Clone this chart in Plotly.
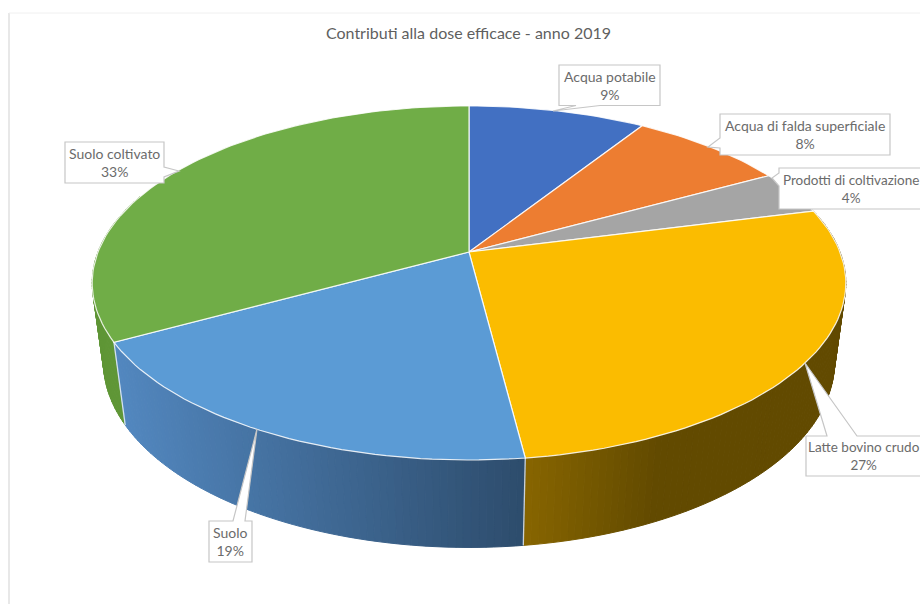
import math
import plotly.graph_objects as go

# Slices of the pie, clockwise from twelve o'clock
categories = ["Acqua potabile", "Acqua di falda superficiale", "Prodotti di coltivazione",
              "Latte bovino crudo", "Suolo", "Suolo coltivato"]
shares = [9, 8, 4, 27, 19, 33]
title_text = "Contributi alla dose efficace - anno 2019"

top_colors = ["#4270C2", "#ED7D31", "#A5A5A5", "#FBBC00", "#5B9BD5", "#70AD47"]
# Rim shading: colour at the left and right end of a horizontal ramp
wall_ramps = [
    (0, "#2F4F7F", 1, "#2F4F7F"),
    (0, "#A05020", 1, "#A05020"),
    (0, "#707070", 1, "#707070"),
    (525, "#876500", 655, "#624A00"),
    (122, "#5287BF", 525, "#2D4C6C"),
    (90, "#5F9636", 120, "#5F9636"),
]

# Perspective camera for the disc
CX, CY = 469.0, 252.0
A, B = 371.0, 171.6
K = 0.175
DEPTH_W, DEPTH_H = 0.03, 81.0


def project(theta_deg, radius=1.0, lower=False):
    t = math.radians(theta_deg)
    u, v = radius * math.sin(t), radius * math.cos(t)
    w = 1 + K * v + (DEPTH_W if lower else 0.0)
    h = DEPTH_H if lower else 0.0
    return CX + A * u / w, CY + (-B * v + h) / w


def mix(c0, c1, f):
    f = max(0.0, min(1.0, f))
    a = [int(c0[i:i + 2], 16) for i in (1, 3, 5)]
    b = [int(c1[i:i + 2], 16) for i in (1, 3, 5)]
    return "rgb({},{},{})".format(*[round(p + (q - p) * f) for p, q in zip(a, b)])


total = sum(shares)
edges = [0.0]
for s in shares:
    edges.append(edges[-1] + 360.0 * s / total)

fig = go.Figure()


def add_poly(xs, ys, fill, line=None, width=1.0):
    fig.add_trace(go.Scatter(x=xs, y=ys, mode="lines", fill="toself", fillcolor=fill,
                             line=dict(color=line or fill, width=width),
                             hoverinfo="skip", showlegend=False))


# Outer wall, back to front
VISIBLE = (70.0, 290.0)
STEP = 1.0
quads = []
for i in range(len(shares)):
    lo, hi = max(edges[i], VISIBLE[0]), min(edges[i + 1], VISIBLE[1])
    if hi <= lo:
        continue
    n = max(1, math.ceil((hi - lo) / STEP))
    x0, c0, x1, c1 = wall_ramps[i]
    for j in range(n):
        a, b = lo + (hi - lo) * j / n, lo + (hi - lo) * (j + 1) / n
        quads.append((a, b, x0, c0, x1, c1))
quads.sort(key=lambda q: -abs((q[0] + q[1]) / 2 - 180))
for a, b, x0, c0, x1, c1 in quads:
    p = [project(a), project(b), project(b, lower=True), project(a, lower=True), project(a)]
    xm = sum(pt[0] for pt in p[:4]) / 4
    col = mix(c0, c1, (xm - x0) / (x1 - x0))
    add_poly([pt[0] for pt in p], [pt[1] for pt in p], col)

# White seams where the slices meet on the wall
for e in edges:
    if VISIBLE[0] < e < VISIBLE[1]:
        p, q = project(e), project(e, lower=True)
        fig.add_trace(go.Scatter(x=[p[0], q[0]], y=[p[1], q[1]], mode="lines",
                                 line=dict(color="rgba(255,255,255,0.75)", width=1.3),
                                 hoverinfo="skip", showlegend=False))

# Top face of each slice
for i, col in enumerate(top_colors):
    n = max(2, math.ceil((edges[i + 1] - edges[i]) / 1.5))
    thetas = [edges[i] + (edges[i + 1] - edges[i]) * j / n for j in range(n + 1)]
    pts = [(CX, CY)] + [project(t) for t in thetas] + [(CX, CY)]
    add_poly([p[0] for p in pts], [p[1] for p in pts], col,
             line="rgba(255,255,255,0.85)", width=1.2)

# Label callouts: box (left, top, right, bottom) and pointer (tip, base start, base end)
callouts = [
    ((559, 65, 660, 105.5), (553, 111), "bottom", (600, 576)),
    ((720, 114, 890, 155), (708, 147), "left", (148, 138)),
    ((779, 168, 930, 209), (772, 178), "left", (186, 173)),
    ((806, 436, 930, 476), (805, 363), "top", (827, 857)),
    ((209, 521, 252, 562), (257, 429), "top", (233, 245)),
    ((65, 142, 164, 183), (179, 171), "right", (167, 177)),
]
label_centers = [(610, 85), (805, 134.5), (851, 188.5), (864, 456), (230.5, 541.5), (114.5, 162.5)]
label_sizes = [14, 14, 13.5, 13.5, 14, 14]

shapes = [
    dict(type="line", x0=9, x1=9, y0=13, y1=604, line=dict(color="#D9D9D9", width=1.2), layer="below"),
    dict(type="line", x0=9, x1=920, y0=13, y1=13, line=dict(color="#F0F0F0", width=1), layer="below"),
]
for (l, t, r, b), tip, side, base in callouts:
    tx, ty = tip
    if side == "top":
        d = f"M{l},{t} L{base[0]},{t} L{tx},{ty} L{base[1]},{t} L{r},{t} L{r},{b} L{l},{b} Z"
    elif side == "bottom":
        d = f"M{l},{t} L{r},{t} L{r},{b} L{base[0]},{b} L{tx},{ty} L{base[1]},{b} L{l},{b} Z"
    elif side == "left":
        d = f"M{l},{t} L{r},{t} L{r},{b} L{l},{b} L{l},{base[0]} L{tx},{ty} L{l},{base[1]} Z"
    else:
        d = f"M{l},{t} L{r},{t} L{r},{base[0]} L{tx},{ty} L{r},{base[1]} L{r},{b} L{l},{b} Z"
    shapes.append(dict(type="path", path=d, fillcolor="white",
                       line=dict(color="#C6C6C6", width=1.2), layer="above"))

annotations = [
    dict(x=c[0], y=c[1], xref="x", yref="y", text=f"{name}<br>{val}%", showarrow=False,
         xanchor="center", yanchor="middle", font=dict(family="Lato", size=sz, color="#6B6B6B"))
    for name, val, c, sz in zip(categories, shares, label_centers, label_sizes)
]

fig.update_layout(
    width=920, height=604, margin=dict(l=0, r=0, t=0, b=0, pad=0),
    paper_bgcolor="white", plot_bgcolor="white", showlegend=False,
    title=dict(text=title_text, x=468.5 / 920, y=1 - 33 / 604, xanchor="center", yanchor="middle",
               xref="paper", yref="paper", font=dict(family="Lato", size=16, color="#5F5F5F")),
    xaxis=dict(range=[0, 920], visible=False, fixedrange=True),
    yaxis=dict(range=[604, 0], visible=False, fixedrange=True),
    shapes=shapes, annotations=annotations,
)
fig.write_html("out.html", config={"displayModeBar": False})
